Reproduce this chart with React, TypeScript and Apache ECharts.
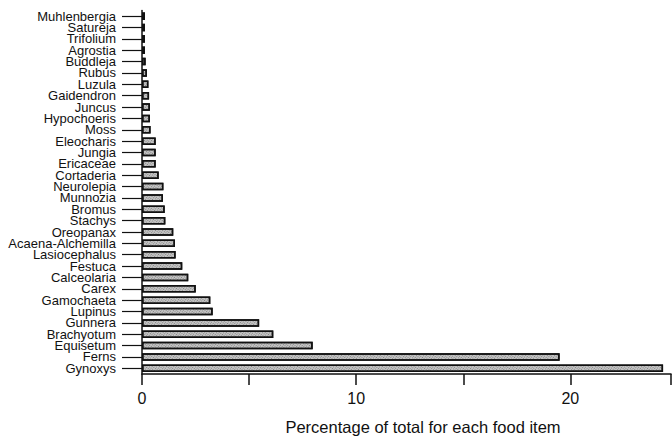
import React, { useEffect, useRef } from "react";
import * as echarts from "echarts";

const categories = [
  "Muhlenbergia", "Satureja", "Trifolium", "Agrostia", "Buddleja", "Rubus", "Luzula",
  "Gaidendron", "Juncus", "Hypochoeris", "Moss", "Eleocharis", "Jungia", "Ericaceae",
  "Cortaderia", "Neurolepia", "Munnozia", "Bromus", "Stachys", "Oreopanax",
  "Acaena-Alchemilla", "Lasiocephalus", "Festuca", "Calceolaria", "Carex", "Gamochaeta",
  "Lupinus", "Gunnera", "Brachyotum", "Equisetum", "Ferns", "Gynoxys",
];

const percentages = [
  0.14, 0.14, 0.14, 0.14, 0.17, 0.23, 0.3,
  0.33, 0.37, 0.37, 0.4, 0.64, 0.64, 0.64,
  0.78, 1.0, 0.98, 1.06, 1.09, 1.46,
  1.54, 1.57, 1.88, 2.16, 2.51, 3.19,
  3.3, 5.47, 6.13, 7.97, 19.5, 24.33,
];

const xLabels = [0, 10, 20];
const xMax = 24.7;

const FONT = "'Liberation Sans', Arial, Helvetica, sans-serif";

export default function App() {
  const ref = useRef<HTMLDivElement>(null);
  useEffect(() => {
    if (!ref.current) return;
    const chart = echarts.init(ref.current, null, { renderer: "svg" });
    chart.setOption({
      animation: false,
      backgroundColor: "#ffffff",
      grid: {
        left: 142,
        right: 1,
        top: 10.5,
        bottom: 62,
        containLabel: false,
        outerBoundsMode: "none",
      },
      xAxis: {
        type: "value",
        position: "bottom",
        min: 0,
        max: xMax,
        interval: 5,
        axisLine: { show: true, lineStyle: { color: "#111", width: 1.5 } },
        axisTick: { show: true, length: 11, lineStyle: { color: "#111", width: 1.5 } },
        axisLabel: {
          show: true,
          margin: 16,
          fontSize: 16,
          fontFamily: FONT,
          color: "#111",
          formatter: (v: number) => (xLabels.includes(v) ? String(v) : ""),
        },
        splitLine: { show: false },
        name: "Percentage of total for each food item",
        nameLocation: "middle",
        nameGap: 44,
        nameTextStyle: { fontSize: 16.5, fontFamily: FONT, color: "#111", padding: [0, 0, 0, 33] },
      },
      yAxis: {
        type: "category",
        inverse: true,
        boundaryGap: true,
        data: categories,
        axisLine: { show: true, lineStyle: { color: "#111", width: 1.5 } },
        axisTick: {
          show: true,
          length: 20,
          alignWithLabel: true,
          interval: 0,
          lineStyle: { color: "#111", width: 1.2 },
        },
        axisLabel: {
          interval: 0,
          margin: 26,
          fontSize: 13,
          lineHeight: 11,
          fontFamily: FONT,
          color: "#111",
        },
        splitLine: { show: false },
      },
      series: [
        {
          type: "bar",
          data: percentages,
          barWidth: 7.5,
          clip: false,
          itemStyle: {
            color: "#c6c6c6",
            borderColor: "#111",
            borderWidth: 1.5,
            decal: {
              symbol: "rect",
              symbolSize: 1,
              color: "rgba(0,0,0,0.35)",
              dashArrayX: [1, 1],
              dashArrayY: [1, 1],
              rotation: 0.6,
            },
          },
        },
      ],
    });
    return () => chart.dispose();
  }, []);
  return (
    <div
      ref={ref}
      style={{ position: "absolute", left: 0, top: 0, width: 672, height: 436, background: "#fff" }}
    />
  );
}
